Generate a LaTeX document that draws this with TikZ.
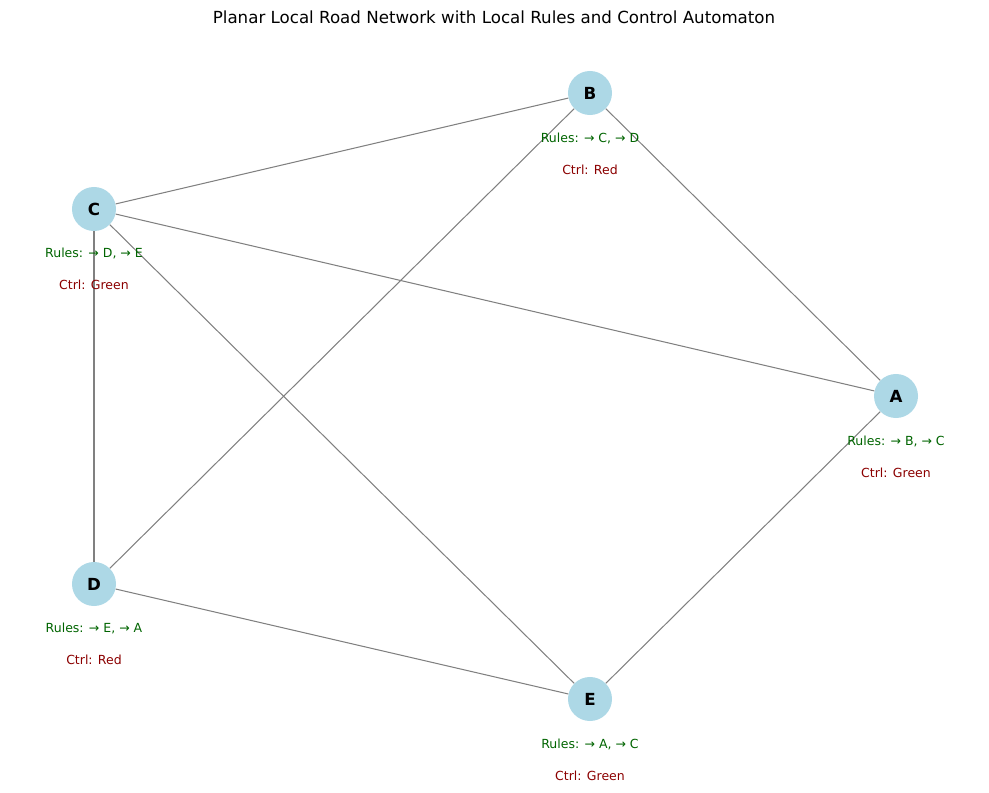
\documentclass[tikz,border=0pt]{standalone}
\usepackage{fontspec}
\setmainfont{DejaVu Sans}
\usetikzlibrary{positioning}
\definecolor{nodeblue}{HTML}{ADD8E6}
\definecolor{rulegreen}{HTML}{006400}
\definecolor{ctrlred}{HTML}{8B0000}
\begin{document}
\begin{tikzpicture}[x=0.72pt,y=-0.72pt,
    junction/.style={circle,fill=nodeblue,minimum size=31.7pt,inner sep=0pt,font=\fontsize{12}{14}\selectfont\bfseries},
    road/.style={draw=gray,line width=0.75pt},
    rules/.style={text=rulegreen,font=\fontsize{9}{11}\selectfont,inner sep=0pt},
    ctrl/.style={text=ctrlred,font=\fontsize{9}{11}\selectfont,inner sep=0pt}]
    \useasboundingbox (0,0) rectangle (989,792);
    \node[font=\fontsize{12}{14}\selectfont] (title) at (494,17) {Planar Local Road Network with Local Rules and Control Automaton};
    % junctions
    \node[junction] (B) at (590,93) {B};
    \node[junction] (C) at (94,209) {C};
    \node[junction] (A) at (896,396) {A};
    \node[junction] (D) at (94,584) {D};
    \node[junction] (E) at (590,699) {E};
    % roads
    \draw[road] (B) -- (C);
    \draw[road] (B) -- (D);
    \draw[road] (B) -- (A);
    \draw[road] (C) -- (A);
    \draw[road] (C) -- (E);
    \draw[road] (C) -- (D);
    \draw[road] (D) -- (E);
    \draw[road] (E) -- (A);
    % local rules and controller state
    \node[rules] (rB) at (590,138) {Rules: → C, → D};
    \node[ctrl] (cB) at (590,170) {Ctrl: Red};
    \node[rules] (rC) at (94,253) {Rules: → D, → E};
    \node[ctrl] (cC) at (94,285) {Ctrl: Green};
    \node[rules] (rA) at (896,441) {Rules: → B, → C};
    \node[ctrl] (cA) at (896,473) {Ctrl: Green};
    \node[rules] (rD) at (94,628) {Rules: → E, → A};
    \node[ctrl] (cD) at (94,660) {Ctrl: Red};
    \node[rules] (rE) at (590,744) {Rules: → A, → C};
    \node[ctrl] (cE) at (590,776) {Ctrl: Green};
\end{tikzpicture}
\end{document}
